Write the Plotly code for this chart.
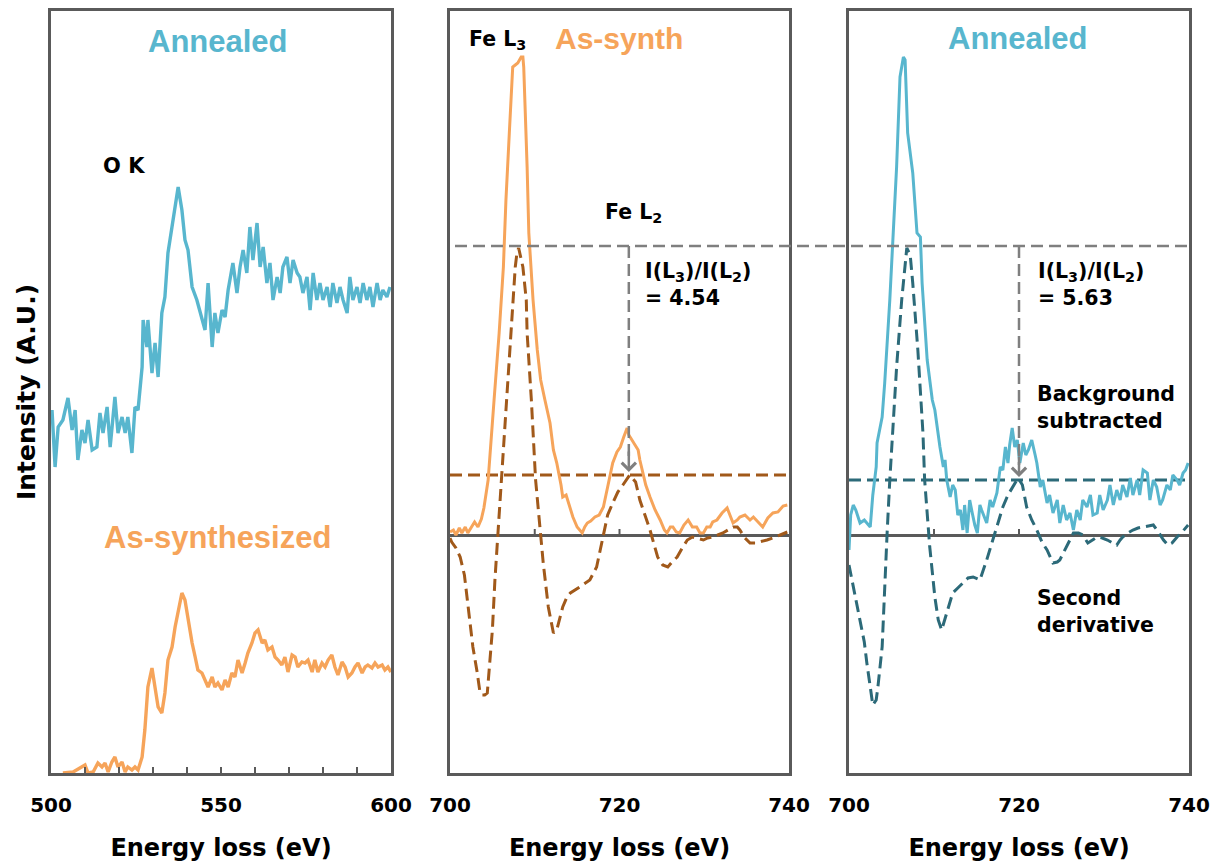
import plotly.graph_objects as go

# ---------------- data ----------------
# Left panel: O K edge, annealed (teal) and as-synthesized (orange)
ok_ann_e = [500.3, 501.2, 502.1, 503.5, 505.0, 506.2, 507.1, 507.9, 509.1, 510.0,
            510.9, 512.1, 513.5, 514.4, 515.3, 516.5, 517.4, 518.8, 519.7, 520.9,
            521.8, 522.6, 523.8, 524.7, 525.6, 526.8, 527.1, 528.2, 528.5, 529.7,
            530.6, 531.5, 532.6, 533.5, 534.4, 535.6, 536.5, 537.4, 538.5, 539.4,
            540.3, 541.5, 542.9, 544.4, 545.3, 546.2, 547.4, 548.2, 549.1, 550.3,
            551.2, 552.1, 553.5, 554.7, 555.6, 556.5, 557.6, 558.5, 559.4, 560.6,
            561.5, 562.4, 563.5, 564.4, 565.3, 566.5, 567.4, 568.2, 569.4, 570.3,
            571.2, 572.4, 573.2, 574.1, 575.3, 576.2, 577.1, 578.2, 579.1, 580.0,
            581.2, 582.1, 582.9, 584.1, 585.0, 585.9, 587.1, 587.9, 588.8, 590.0,
            590.9, 591.8, 592.9, 593.8, 594.7, 595.9, 596.8, 597.6, 598.8, 599.7]
ok_ann_i = [363, 306, 346, 353, 375, 343, 363, 313, 343, 330,
            353, 323, 326, 360, 340, 366, 326, 376, 340, 356,
            340, 356, 320, 366, 363, 406, 453, 426, 453, 400,
            430, 396, 460, 476, 520, 546, 566, 586, 563, 533,
            523, 486, 473, 453, 443, 490, 426, 460, 440, 463,
            456, 483, 510, 480, 506, 523, 500, 546, 513, 550,
            506, 526, 490, 510, 473, 496, 480, 506, 516, 490,
            513, 500, 496, 480, 496, 463, 500, 473, 490, 473,
            486, 466, 490, 470, 486, 473, 460, 496, 473, 486,
            470, 490, 473, 486, 466, 490, 473, 483, 476, 486]

ok_syn_e = [503.5, 506.5, 508.5, 510.0, 510.9, 512.4, 513.8, 515.0, 515.9, 516.8,
            517.9, 518.8, 519.7, 520.9, 521.8, 522.6, 523.8, 524.7, 525.6, 526.8,
            527.6, 528.5, 529.7, 530.6, 531.5, 532.6, 533.5, 534.4, 535.6, 536.5,
            537.4, 538.5, 539.4, 540.3, 541.5, 542.4, 543.2, 544.4, 545.3, 546.2,
            547.4, 548.2, 549.1, 550.3, 551.2, 552.1, 553.2, 554.1, 555.0, 556.2,
            557.1, 557.9, 559.1, 560.0, 560.9, 562.1, 562.9, 563.8, 565.0, 565.9,
            566.8, 567.9, 568.8, 569.7, 570.9, 571.8, 572.6, 573.8, 574.7, 575.6,
            576.8, 577.6, 578.5, 579.7, 580.6, 581.5, 582.6, 583.5, 584.4, 585.6,
            586.5, 587.4, 588.5, 589.4, 590.3, 591.5, 592.4, 593.2, 594.4, 595.3,
            596.2, 597.4, 598.2, 599.1, 600.0]
ok_syn_i = [0, 1, 5, 8, 0, 1, 10, 6, 10, 1,
            11, 16, 6, 11, 1, 6, 3, 6, 3, 16,
            43, 86, 105, 86, 66, 60, 80, 113, 126, 146,
            160, 180, 173, 153, 130, 116, 103, 100, 93, 86,
            96, 86, 90, 83, 93, 86, 100, 96, 113, 100,
            110, 120, 130, 140, 143, 130, 133, 123, 126, 116,
            113, 108, 116, 101, 118, 116, 106, 111, 110, 113,
            101, 113, 101, 110, 106, 113, 118, 106, 98, 111,
            106, 96, 100, 106, 110, 100, 106, 108, 105, 110,
            106, 108, 103, 106, 101]

# Middle panel: Fe L edge, as-synthesized
fe_syn_e = [700.0, 700.4, 700.7, 701.1, 701.4, 701.8, 702.1, 702.5, 702.9, 703.3,
            703.7, 704.0, 704.5, 705.2, 705.8, 706.3, 706.6, 707.0, 707.4, 707.7,
            708.0, 708.4, 708.6, 708.7, 709.0, 709.1, 709.3, 709.8, 710.3, 710.7,
            711.2, 711.8, 712.2, 712.6, 713.1, 713.3, 713.7, 713.9, 714.3, 714.5,
            715.0, 715.6, 715.9, 716.2, 716.6, 717.1, 717.6, 718.1, 718.6, 719.2,
            719.7, 720.1, 720.5, 720.9, 721.1, 721.5, 721.8, 722.2, 722.4, 722.8,
            723.1, 723.6, 724.2, 724.8, 725.3, 725.6, 726.0, 726.3, 726.7, 727.1,
            727.6, 728.1, 728.6, 729.1, 729.5, 729.9, 730.3, 730.7, 731.0, 731.5,
            732.1, 732.7, 733.0, 733.4, 733.9, 734.2, 734.8, 735.4, 735.8, 736.3,
            736.9, 737.5, 738.1, 738.7, 739.3, 739.8]
fe_syn_i = [3, 5, 0, 7, 2, 8, 2, 7, 13, 8,
            16, 27, 55, 135, 202, 268, 335, 402, 468, 470,
            472, 478, 478, 468, 402, 368, 302, 235, 185, 155,
            135, 112, 85, 72, 50, 38, 40, 35, 23, 18,
            8, 2, 8, 12, 14, 18, 20, 28, 48, 72,
            83, 88, 98, 107, 100, 95, 90, 85, 75, 62,
            50, 38, 25, 15, 5, 2, 8, 8, 3, 2,
            10, 15, 8, 8, 2, 2, 8, 8, 13, 15,
            22, 27, 20, 12, 15, 18, 20, 15, 18, 13,
            8, 17, 22, 23, 29, 30]

fe_syn_d2_e = [700.0, 700.2, 700.7, 701.2, 701.7, 702.0, 702.4, 702.7, 703.2, 703.5,
               703.8, 704.1, 704.4, 704.7, 705.0, 705.3, 705.6, 706.1, 706.7, 707.2,
               707.5, 707.7, 707.9, 708.1, 708.6, 709.0, 709.1, 709.6, 710.1, 710.6,
               711.0, 711.6, 712.2, 712.6, 713.3, 713.8, 714.2, 715.3, 716.5, 717.3,
               718.1, 718.6, 719.2, 719.8, 720.4, 721.2, 721.9, 722.4, 723.0, 723.6,
               724.1, 724.5, 725.1, 725.7, 726.2, 726.8, 727.4, 728.0, 728.6, 729.1,
               729.9, 730.4, 731.0, 731.6, 732.2, 732.8, 733.4, 733.9, 734.2, 734.8,
               735.4, 736.0, 736.6, 737.4, 738.1, 738.9, 739.8]
fe_syn_d2_i = [-3, -7, -13, -22, -40, -62, -87, -112, -137, -155,
               -160, -160, -158, -130, -95, -45, -5, 55, 135, 202,
               250, 268, 282, 287, 268, 235, 202, 135, 55, 5,
               -28, -72, -98, -95, -72, -62, -58, -52, -45, -32,
               -2, 20, 32, 43, 50, 60, 53, 35, 20, 5,
               -10, -22, -30, -32, -27, -22, -13, -5, -2, -3,
               -5, -3, -2, 0, 2, 5, 8, 8, 5, -3,
               -8, -8, -7, -5, -3, 0, 3]

# Right panel: Fe L edge, annealed
fe_ann_e = [700.0, 700.2, 700.5, 700.8, 701.3, 701.8, 702.5, 702.8, 703.2, 703.3,
            703.9, 704.2, 704.8, 705.2, 705.6, 706.0, 706.4, 706.6, 706.8, 706.9,
            707.5, 708.0, 708.4, 708.6, 709.2, 709.8, 710.1, 710.4, 710.7, 711.1,
            711.3, 711.5, 711.9, 712.2, 712.5, 712.8, 713.1, 713.4, 713.6, 713.9,
            714.2, 714.5, 714.8, 715.1, 715.4, 715.6, 716.0, 716.2, 716.6, 716.9,
            717.4, 717.8, 718.1, 718.4, 718.7, 718.9, 719.2, 719.5, 719.8, 720.1,
            720.5, 720.8, 721.1, 721.5, 721.9, 722.1, 722.5, 722.8, 723.3, 723.6,
            724.0, 724.5, 724.8, 725.2, 725.6, 726.0, 726.4, 726.8, 727.2, 727.5,
            728.0, 728.4, 728.7, 729.2, 729.5, 729.9, 730.4, 730.7, 731.1, 731.5,
            731.9, 732.2, 732.7, 733.1, 733.4, 733.9, 734.2, 734.6, 735.1, 735.4,
            735.8, 736.2, 736.6, 736.9, 737.4, 737.8, 738.1, 738.6, 738.9, 739.3,
            739.6, 739.9]
fe_ann_i = [-15, 20, 30, 25, 12, 15, 8, 40, 68, 92,
            118, 152, 235, 302, 368, 458, 478, 475, 435, 402,
            362, 302, 298, 252, 175, 135, 125, 105, 88, 68,
            75, 55, 38, 50, 45, 20, 25, 5, 30, 2,
            35, 22, 10, 2, 30, 25, 15, 12, 35, 28,
            42, 68, 65, 88, 72, 90, 107, 88, 95, 72,
            92, 80, 85, 95, 80, 72, 48, 55, 32, 40,
            22, 35, 12, 30, 15, 22, 5, 25, 15, 35,
            28, 40, 20, 22, 40, 25, 35, 50, 30, 45,
            35, 50, 38, 57, 40, 55, 40, 65, 62, 35,
            55, 48, 30, 35, 50, 45, 60, 55, 50, 62,
            65, 72]

fe_ann_d2_e = [700.0, 700.5, 700.9, 701.3, 701.8, 702.1, 702.5, 702.8, 703.2, 703.4,
               703.9, 704.2, 704.5, 704.8, 705.1, 705.6, 706.2, 706.6, 706.8, 707.2,
               707.5, 708.1, 708.7, 708.9, 709.2, 709.5, 710.1, 710.5, 710.9, 711.5,
               712.2, 712.8, 713.4, 714.0, 714.6, 715.4, 716.2, 716.9, 717.5, 718.1,
               718.7, 719.3, 719.9, 720.4, 720.9, 721.5, 722.1, 722.7, 723.3, 724.0,
               724.5, 724.8, 725.6, 726.4, 727.0, 727.5, 728.1, 728.7, 729.2, 729.8,
               730.4, 731.0, 731.5, 731.9, 732.2, 732.8, 733.4, 734.0, 734.6, 735.2,
               735.8, 736.4, 737.0, 737.5, 738.0, 738.6, 739.2, 739.9]
fe_ann_d2_i = [-30, -52, -68, -85, -107, -128, -150, -170, -165, -152,
               -112, -45, 5, 55, 102, 168, 235, 270, 287, 280,
               252, 185, 102, 55, 25, -12, -62, -85, -95, -78,
               -58, -53, -48, -43, -42, -45, -25, -5, 13, 28,
               40, 48, 57, 50, 28, 15, 5, -7, -15, -28,
               -27, -25, -12, 2, 2, 0, -8, -5, -2, -3,
               -5, -8, -10, -5, -2, 2, 5, 7, 8, 9,
               10, 3, -5, -10, -8, -2, 3, 10]

# guide levels / positions (data units)
l3_level = 289              # common L3 second-derivative maximum
l2_level_syn = 60           # L2 second-derivative maximum, as-synth
l2_level_ann = 55           # L2 second-derivative maximum, annealed
l2_pos_syn = 721.1
l2_pos_ann = 720.0
arrow_tip_syn = 63
arrow_tip_ann = 58
zero_ticks = [710, 720]
zero_tick_h = 6

left_major = [500, 550, 600]
left_minor = [510, 520, 530, 540, 560, 570, 580, 590]
fe_ticks = [700, 720, 740]

# ---------------- styling ----------------
W, H = 1211, 862
TEAL = '#58B6CE'
ORANGE = '#F6A45A'
BROWN = '#A1591A'
DTEAL = '#2C6A79'
GRAY = '#7F7F7F'
AXC = '#5A5A5A'
ARIAL = 'Liberation Sans, Arial, sans-serif'
DEJA = 'DejaVu Sans, sans-serif'
DASH = '12px,6px'


def px(x):
    return x / W


def py(y):
    return 1 - y / H


xd1 = [px(51), px(391)]
xd2 = [px(450), px(789)]
xd3 = [px(849), px(1189)]
yd = [py(773), py(11)]

fig = go.Figure()

# left panel
fig.add_trace(go.Scatter(x=ok_ann_e, y=ok_ann_i, mode='lines', line=dict(color=TEAL, width=3.4),
                         xaxis='x', yaxis='y'))
fig.add_trace(go.Scatter(x=ok_syn_e, y=ok_syn_i, mode='lines', line=dict(color=ORANGE, width=3.4),
                         xaxis='x', yaxis='y'))

# middle panel
fig.add_trace(go.Scatter(x=[700, 740], y=[l2_level_syn, l2_level_syn], mode='lines',
                         line=dict(color=BROWN, width=3, dash=DASH), xaxis='x2', yaxis='y2'))
fig.add_trace(go.Scatter(x=fe_syn_e, y=fe_syn_i, mode='lines', line=dict(color=ORANGE, width=3),
                         xaxis='x2', yaxis='y2'))
fig.add_trace(go.Scatter(x=fe_syn_d2_e, y=fe_syn_d2_i, mode='lines',
                         line=dict(color=BROWN, width=3, dash=DASH), xaxis='x2', yaxis='y2'))
fig.add_trace(go.Scatter(x=[l2_pos_syn, l2_pos_syn], y=[l3_level, arrow_tip_syn + 12], mode='lines',
                         line=dict(color=GRAY, width=2.5, dash=DASH), xaxis='x2', yaxis='y2'))
fig.add_trace(go.Scatter(x=[zero_ticks[0], zero_ticks[0], None, zero_ticks[1], zero_ticks[1]],
                         y=[0, zero_tick_h, None, 0, zero_tick_h], mode='lines',
                         line=dict(color=AXC, width=2), xaxis='x2', yaxis='y2'))

# right panel
fig.add_trace(go.Scatter(x=[700, 740], y=[l2_level_ann, l2_level_ann], mode='lines',
                         line=dict(color=DTEAL, width=3, dash=DASH), xaxis='x3', yaxis='y3'))
fig.add_trace(go.Scatter(x=fe_ann_e, y=fe_ann_i, mode='lines', line=dict(color=TEAL, width=3),
                         xaxis='x3', yaxis='y3'))
fig.add_trace(go.Scatter(x=fe_ann_d2_e, y=fe_ann_d2_i, mode='lines',
                         line=dict(color=DTEAL, width=3, dash=DASH), xaxis='x3', yaxis='y3'))
fig.add_trace(go.Scatter(x=[l2_pos_ann, l2_pos_ann], y=[l3_level, arrow_tip_ann + 12], mode='lines',
                         line=dict(color=GRAY, width=2.5, dash=DASH), xaxis='x3', yaxis='y3'))
fig.add_trace(go.Scatter(x=[zero_ticks[0], zero_ticks[0], None, zero_ticks[1], zero_ticks[1]],
                         y=[0, zero_tick_h, None, 0, zero_tick_h], mode='lines',
                         line=dict(color=AXC, width=2), xaxis='x3', yaxis='y3'))

# gray dashed L3 level spanning both Fe panels
fig.add_shape(type='line', xref='paper', yref='y2', x0=px(455), x1=px(1189),
              y0=l3_level, y1=l3_level, line=dict(color=GRAY, width=2.5, dash=DASH))

box = dict(showline=True, mirror=True, linecolor=AXC, linewidth=3, showgrid=False, zeroline=False,
           automargin=False)
tickfont = dict(family=DEJA, size=20, color='black', weight='bold')
xtitle = dict(text='Energy loss (eV)', font=dict(family=DEJA, size=24, color='black', weight='bold'),
              standoff=25)

fig.update_layout(
    width=W, height=H, margin=dict(l=0, r=0, t=0, b=0, pad=0, autoexpand=False),
    paper_bgcolor='white', plot_bgcolor='white', showlegend=False,
    xaxis=dict(box, domain=xd1, range=[500, 600], anchor='y', tickmode='array', tickvals=left_major,
               ticks='inside', ticklen=6, tickwidth=2, tickcolor=AXC,
               minor=dict(tickmode='array', tickvals=left_minor, ticks='inside', ticklen=6,
                          tickwidth=2, tickcolor=AXC),
               tickfont=tickfont, ticklabelstandoff=12, title=xtitle),
    yaxis=dict(box, domain=yd, range=[0, 762], anchor='x', showticklabels=False, ticks='',
               title=dict(text='Intensity (A.U.)',
                          font=dict(family=DEJA, size=25, color='black', weight='bold'), standoff=6)),
    xaxis2=dict(box, domain=xd2, range=[700, 740], anchor='y2', tickmode='array', tickvals=fe_ticks,
                ticks='', tickfont=tickfont, ticklabelstandoff=12, title=xtitle),
    yaxis2=dict(box, domain=yd, range=[-238, 524], anchor='x2', showticklabels=False, ticks='',
                zeroline=True, zerolinecolor=AXC, zerolinewidth=3),
    xaxis3=dict(box, domain=xd3, range=[700, 740], anchor='y3', tickmode='array', tickvals=fe_ticks,
                ticks='', tickfont=tickfont, ticklabelstandoff=12, title=xtitle),
    yaxis3=dict(box, domain=yd, range=[-238, 524], anchor='x3', showticklabels=False, ticks='',
                zeroline=True, zerolinecolor=AXC, zerolinewidth=3),
)


def note(text, x, y, size, color='black', family=DEJA, xanchor='center'):
    fig.add_annotation(text=text, xref='paper', yref='paper', x=px(x), y=py(y), showarrow=False,
                       xanchor=xanchor, yanchor='middle', align='left',
                       font=dict(family=family, size=size, color=color, weight='bold'))


note('Annealed', 218, 41, 31, TEAL, ARIAL)
note('O K', 124, 166, 21)
note('As-synthesized', 217, 537, 31, ORANGE, ARIAL)
note('Fe L<sub>3</sub>', 467, 40, 20.5, xanchor='left')
note('As-synth', 619, 39, 30, ORANGE, ARIAL)
note('Fe L<sub>2</sub>', 603, 213, 20.5, xanchor='left')
note('I(L<sub>3</sub>)/I(L<sub>2</sub>)<br>= 4.54', 643, 284, 20.5, xanchor='left')
note('Annealed', 1018, 39, 31, TEAL, ARIAL)
note('I(L<sub>3</sub>)/I(L<sub>2</sub>)<br>= 5.63', 1036, 285, 20.5, xanchor='left')
note('Background<br>subtracted', 1035, 408, 20.5, xanchor='left')
note('Second<br>derivative', 1035, 611, 20.5, xanchor='left')

# arrow heads at the L2 maxima
for xa, ya, xr, yr in [(l2_pos_syn, arrow_tip_syn, 'x2', 'y2'), (l2_pos_ann, arrow_tip_ann, 'x3', 'y3')]:
    fig.add_annotation(x=xa, y=ya, xref=xr, yref=yr, ax=xa, ay=ya + 22, axref=xr, ayref=yr,
                       text='', showarrow=True, arrowhead=4, arrowsize=1.1, arrowwidth=2.5,
                       arrowcolor=GRAY)

fig.write_html("out.html", include_plotlyjs=True, config={'displayModeBar': False},
               post_script="document.body.style.margin='0px';document.body.style.overflow='hidden';")
